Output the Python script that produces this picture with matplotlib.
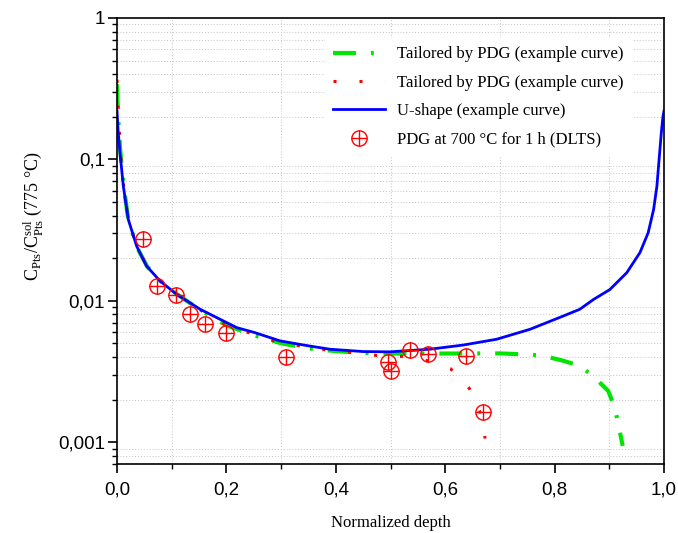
import matplotlib
matplotlib.use("Agg")
import matplotlib.pyplot as plt
import matplotlib.ticker as mticker

plt.rcParams['mathtext.fontset'] = 'custom'
plt.rcParams['mathtext.rm'] = 'Liberation Serif'
plt.rcParams['mathtext.it'] = 'Liberation Serif:italic'

# U-shape example curve
blue_x = [0.0, 0.002, 0.0055, 0.0116, 0.0207, 0.036, 0.054, 0.0786, 0.109, 0.152, 0.219,
          0.252, 0.298, 0.344, 0.389, 0.450, 0.499, 0.572, 0.633, 0.694, 0.755, 0.816,
          0.846, 0.871, 0.901, 0.932, 0.956, 0.971, 0.981, 0.987, 0.991, 0.995, 0.998, 1.0]
blue_y = [0.22, 0.16, 0.111, 0.0645, 0.0375, 0.0243, 0.0176, 0.0138, 0.0111, 0.0087, 0.00645,
          0.00595, 0.0052, 0.00484, 0.00454, 0.00437, 0.00435, 0.00454, 0.00486, 0.00534,
          0.00628, 0.0078, 0.0087, 0.0102, 0.0120, 0.0158, 0.0219, 0.0302, 0.0442, 0.0645,
          0.0995, 0.153, 0.20, 0.22]

# tailored by PDG, green dash-dot
green_x = [0.0, 0.002, 0.006, 0.012, 0.02, 0.035, 0.055, 0.08, 0.11, 0.15, 0.2, 0.25, 0.3,
           0.35, 0.4, 0.45, 0.5, 0.6, 0.7, 0.746, 0.776, 0.816, 0.842, 0.868, 0.898, 0.91,
           0.9165, 0.9245]
green_y = [0.34, 0.2, 0.115, 0.066, 0.039, 0.0245, 0.0175, 0.0137, 0.0111, 0.0087, 0.0067,
           0.0057, 0.0050, 0.0046, 0.0044, 0.00428, 0.00423, 0.00423, 0.00424, 0.00417, 0.0041,
           0.00376, 0.0035, 0.0030, 0.0023, 0.00175, 0.00134, 0.00094]

# tailored by PDG, red dotted
red_x = [0.0, 0.003, 0.006, 0.012, 0.02, 0.035, 0.055, 0.08, 0.11, 0.15, 0.2, 0.286, 0.333,
         0.38, 0.428, 0.475, 0.522, 0.569, 0.61, 0.644, 0.664, 0.673]
red_y = [0.365, 0.2, 0.115, 0.066, 0.039, 0.0245, 0.0175, 0.0137, 0.0111, 0.0087, 0.0067,
         0.0052, 0.0048, 0.0045, 0.0043, 0.0041, 0.00403, 0.00376, 0.0033, 0.0024, 0.00162,
         0.00106]

# DLTS measurement
dlts_x = [0.048, 0.0737, 0.108, 0.134, 0.161, 0.200, 0.3095, 0.496, 0.500, 0.535, 0.569,
          0.6375, 0.670]
dlts_y = [0.0275, 0.0127, 0.0110, 0.0080, 0.00689, 0.00589, 0.00401, 0.00369, 0.00316,
          0.00449, 0.00417, 0.00407, 0.00162]

x_ticks = [0.0, 0.2, 0.4, 0.6, 0.8, 1.0]
x_ticklabels = ["0,0", "0,2", "0,4", "0,6", "0,8", "1,0"]
y_ticks = [0.001, 0.01, 0.1, 1]
y_ticklabels = ["0,001", "0,01", "0,1", "1"]

fig = plt.figure(figsize=(6.78, 5.33), dpi=100)
ax = fig.add_axes([117/678, 1-464/533, (664-117)/678, (464-18)/533])

green, = ax.plot(green_x, green_y, color='#00e600', lw=3,
                 linestyle=(0, (5.5, 3.6, 0.7, 3.6)), dash_capstyle='butt')
red, = ax.plot(red_x, red_y, color='#ff0000', lw=2.2,
               linestyle=(0, (1, 7.5)), dash_capstyle='butt')
blue, = ax.plot(blue_x, blue_y, color='#0000ff', lw=2.0)
circ, = ax.plot(dlts_x, dlts_y, linestyle='none', marker='o', ms=11, mfc='none',
                mec='#ff0000', mew=1.0)
plus, = ax.plot(dlts_x, dlts_y, linestyle='none', marker='+', ms=11, mec='#ff0000', mew=1.0)

ax.set_yscale('log')
ax.set_xlim(0, 1)
ax.set_ylim(0.0007, 1)

ax.set_xticks(x_ticks)
ax.set_xticklabels(x_ticklabels)
ax.xaxis.set_minor_locator(mticker.MultipleLocator(0.1))
ax.set_yticks(y_ticks)
ax.set_yticklabels(y_ticklabels)
ax.yaxis.set_minor_locator(mticker.LogLocator(base=10, subs=range(2, 10)))
ax.yaxis.set_minor_formatter(mticker.NullFormatter())

for lab in ax.get_xticklabels() + ax.get_yticklabels():
    lab.set_fontfamily('Liberation Sans')
    lab.set_fontsize(13.5)

ax.tick_params(which='major', direction='out', length=6.5, width=1.2)
ax.tick_params(which='minor', direction='out', length=3.5, width=1.0)
ax.tick_params(axis='x', pad=6)
ax.tick_params(axis='y', pad=2)
for s in ax.spines.values():
    s.set_linewidth(1.2)

ax.grid(which='minor', color='#c4c4c4', linestyle=(0, (1, 2)), lw=0.7)
ax.grid(which='major', visible=False)
ax.set_axisbelow(True)

ax.set_xlabel("Normalized depth", fontfamily='Liberation Serif', fontsize=12, labelpad=12)
ax.set_ylabel(r"C$_{\mathrm{Pts}}$/C$^{\mathrm{sol}}_{\mathrm{Pts}}$ (775 °C)",
              fontfamily='Liberation Serif', fontsize=13)
ax.yaxis.set_label_coords(-0.132, 0.556)

leg = ax.legend([green, red, blue, (circ, plus)],
                ["Tailored by PDG (example curve)", "Tailored by PDG (example curve)",
                 "U-shape (example curve)", "PDG at 700 °C for 1 h (DLTS)"],
                loc='upper left', bbox_to_anchor=(0.38, 0.955), borderaxespad=0,
                prop={'family': 'Liberation Serif', 'size': 12},
                handlelength=3.1, handletextpad=0.75, labelspacing=0.74,
                frameon=True, fancybox=False, framealpha=1, borderpad=0.5)
leg.get_frame().set_edgecolor('none')
leg.get_frame().set_facecolor('white')

fig.savefig("out.png", dpi=100)
